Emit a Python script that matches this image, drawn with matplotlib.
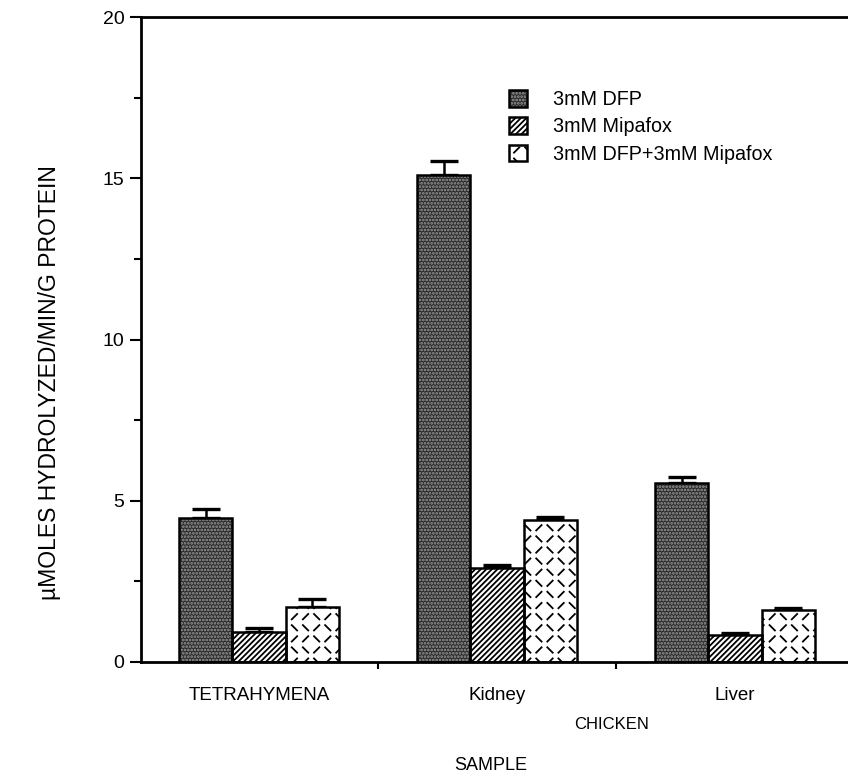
import warnings
import matplotlib
matplotlib.use("Agg")
import matplotlib.pyplot as plt
import matplotlib.hatch as mhatch
from matplotlib.path import Path
from matplotlib.patches import Patch
from matplotlib.legend_handler import HandlerTuple
import numpy as np

warnings.filterwarnings('ignore')
plt.rcParams['font.family'] = ['Liberation Sans', 'DejaVu Sans']
plt.rcParams['hatch.linewidth'] = 1.3

samples = ['TETRAHYMENA', 'Kidney', 'Liver']
series = ['3mM DFP', '3mM Mipafox', '3mM DFP+3mM Mipafox']
dfp = [4.45, 15.1, 5.55]
dfp_err = [0.3, 0.45, 0.18]
mipafox = [0.92, 2.93, 0.83]
mipafox_err = [0.12, 0.08, 0.07]
combo = [1.69, 4.41, 1.6]
combo_err = [0.27, 0.1, 0.07]


# short broken dashes for the DFP+Mipafox bars, hatch letter 'k'
class DashHatch(mhatch.HatchPatternBase):
    def __init__(self, hatch, density):
        self.n = 9 if 'k' in hatch else 0
        self.num_vertices = 2 * self.n * self.n

    def set_vertices_and_codes(self, vertices, codes):
        step = 1.0 / self.n
        half = 0.24 * step
        k = 0
        for i in range(self.n):
            for j in range(self.n):
                cx = (i + 0.5) * step
                cy = (j + 0.5) * step
                s = 1 if (i + j) % 2 else -1
                vertices[k] = (cx - half, cy - s * half)
                vertices[k + 1] = (cx + half, cy + s * half)
                codes[k] = Path.MOVETO
                codes[k + 1] = Path.LINETO
                k += 2


mhatch._hatch_types.append(DashHatch)

# fill colour, hatch, hatch colour for each series
styles = [('#2b2b2b', '.....', '#9a9a9a'),
          ('white', '//////', 'black'),
          ('white', 'k', 'black')]

fig = plt.figure(figsize=(8.48, 7.77), dpi=100)
ax = fig.add_axes([141 / 848, 115 / 777, (875 - 141) / 848, (662 - 17) / 777])

x = np.arange(len(samples))
w = 0.224
values = [dfp, mipafox, combo]
errors = [dfp_err, mipafox_err, combo_err]

for i, (vals, errs) in enumerate(zip(values, errors)):
    fc, hatch, hc = styles[i]
    pos = x + (i - 1) * w
    ax.bar(pos, vals, w, color=fc, edgecolor=hc, hatch=hatch, linewidth=0, zorder=2)
    ax.bar(pos, vals, w, fill=False, edgecolor='black', linewidth=1.8, zorder=3)
    ax.errorbar(pos, vals, yerr=[np.zeros(len(vals)), errs], fmt='none',
                ecolor='black', elinewidth=1.8, capsize=10, capthick=2.4, zorder=1)

ax.set_xlim(-0.496, 2.588)
ax.set_ylim(0, 20)
ax.set_yticks([0, 5, 10, 15, 20])
ax.set_yticks([2.5, 7.5, 12.5, 17.5], minor=True)
ax.set_xticks([0.5, 1.5])
ax.set_xticklabels([])
ax.tick_params(axis='y', which='major', length=8, width=1.5, labelsize=14, pad=4)
ax.tick_params(axis='y', which='minor', length=5, width=1.5)
ax.tick_params(axis='x', length=5, width=1.5)
for s in ax.spines.values():
    s.set_linewidth(2)

for xi, name in zip(x, samples):
    ax.text(xi, -1.05, name, ha='center', va='center', fontsize=13.5)
ax.text(1.48, -1.93, 'CHICKEN', ha='center', va='center', fontsize=12)
ax.text(0.972, -3.2, 'SAMPLE', ha='center', va='center', fontsize=13)

fig.text(50 / 848, 1 - 383 / 777, 'µMOLES HYDROLYZED/MIN/G PROTEIN',
         rotation=90, ha='center', va='center', fontsize=16.5)

handles = [(Patch(facecolor=s[0], edgecolor=s[2], hatch=s[1], linewidth=0),
            Patch(fill=False, edgecolor='black', linewidth=1.8)) for s in styles]
leg = ax.legend(handles, series, loc='upper left',
                handler_map={tuple: HandlerTuple(ndivide=1, pad=0)},
                bbox_to_anchor=(491 / 848, 1 - 72 / 777), bbox_transform=fig.transFigure,
                frameon=False, fontsize=14.2, handlelength=0.93, handleheight=0.93,
                handletextpad=1.3, labelspacing=0.42)

fig.savefig('out.png', dpi=100)
